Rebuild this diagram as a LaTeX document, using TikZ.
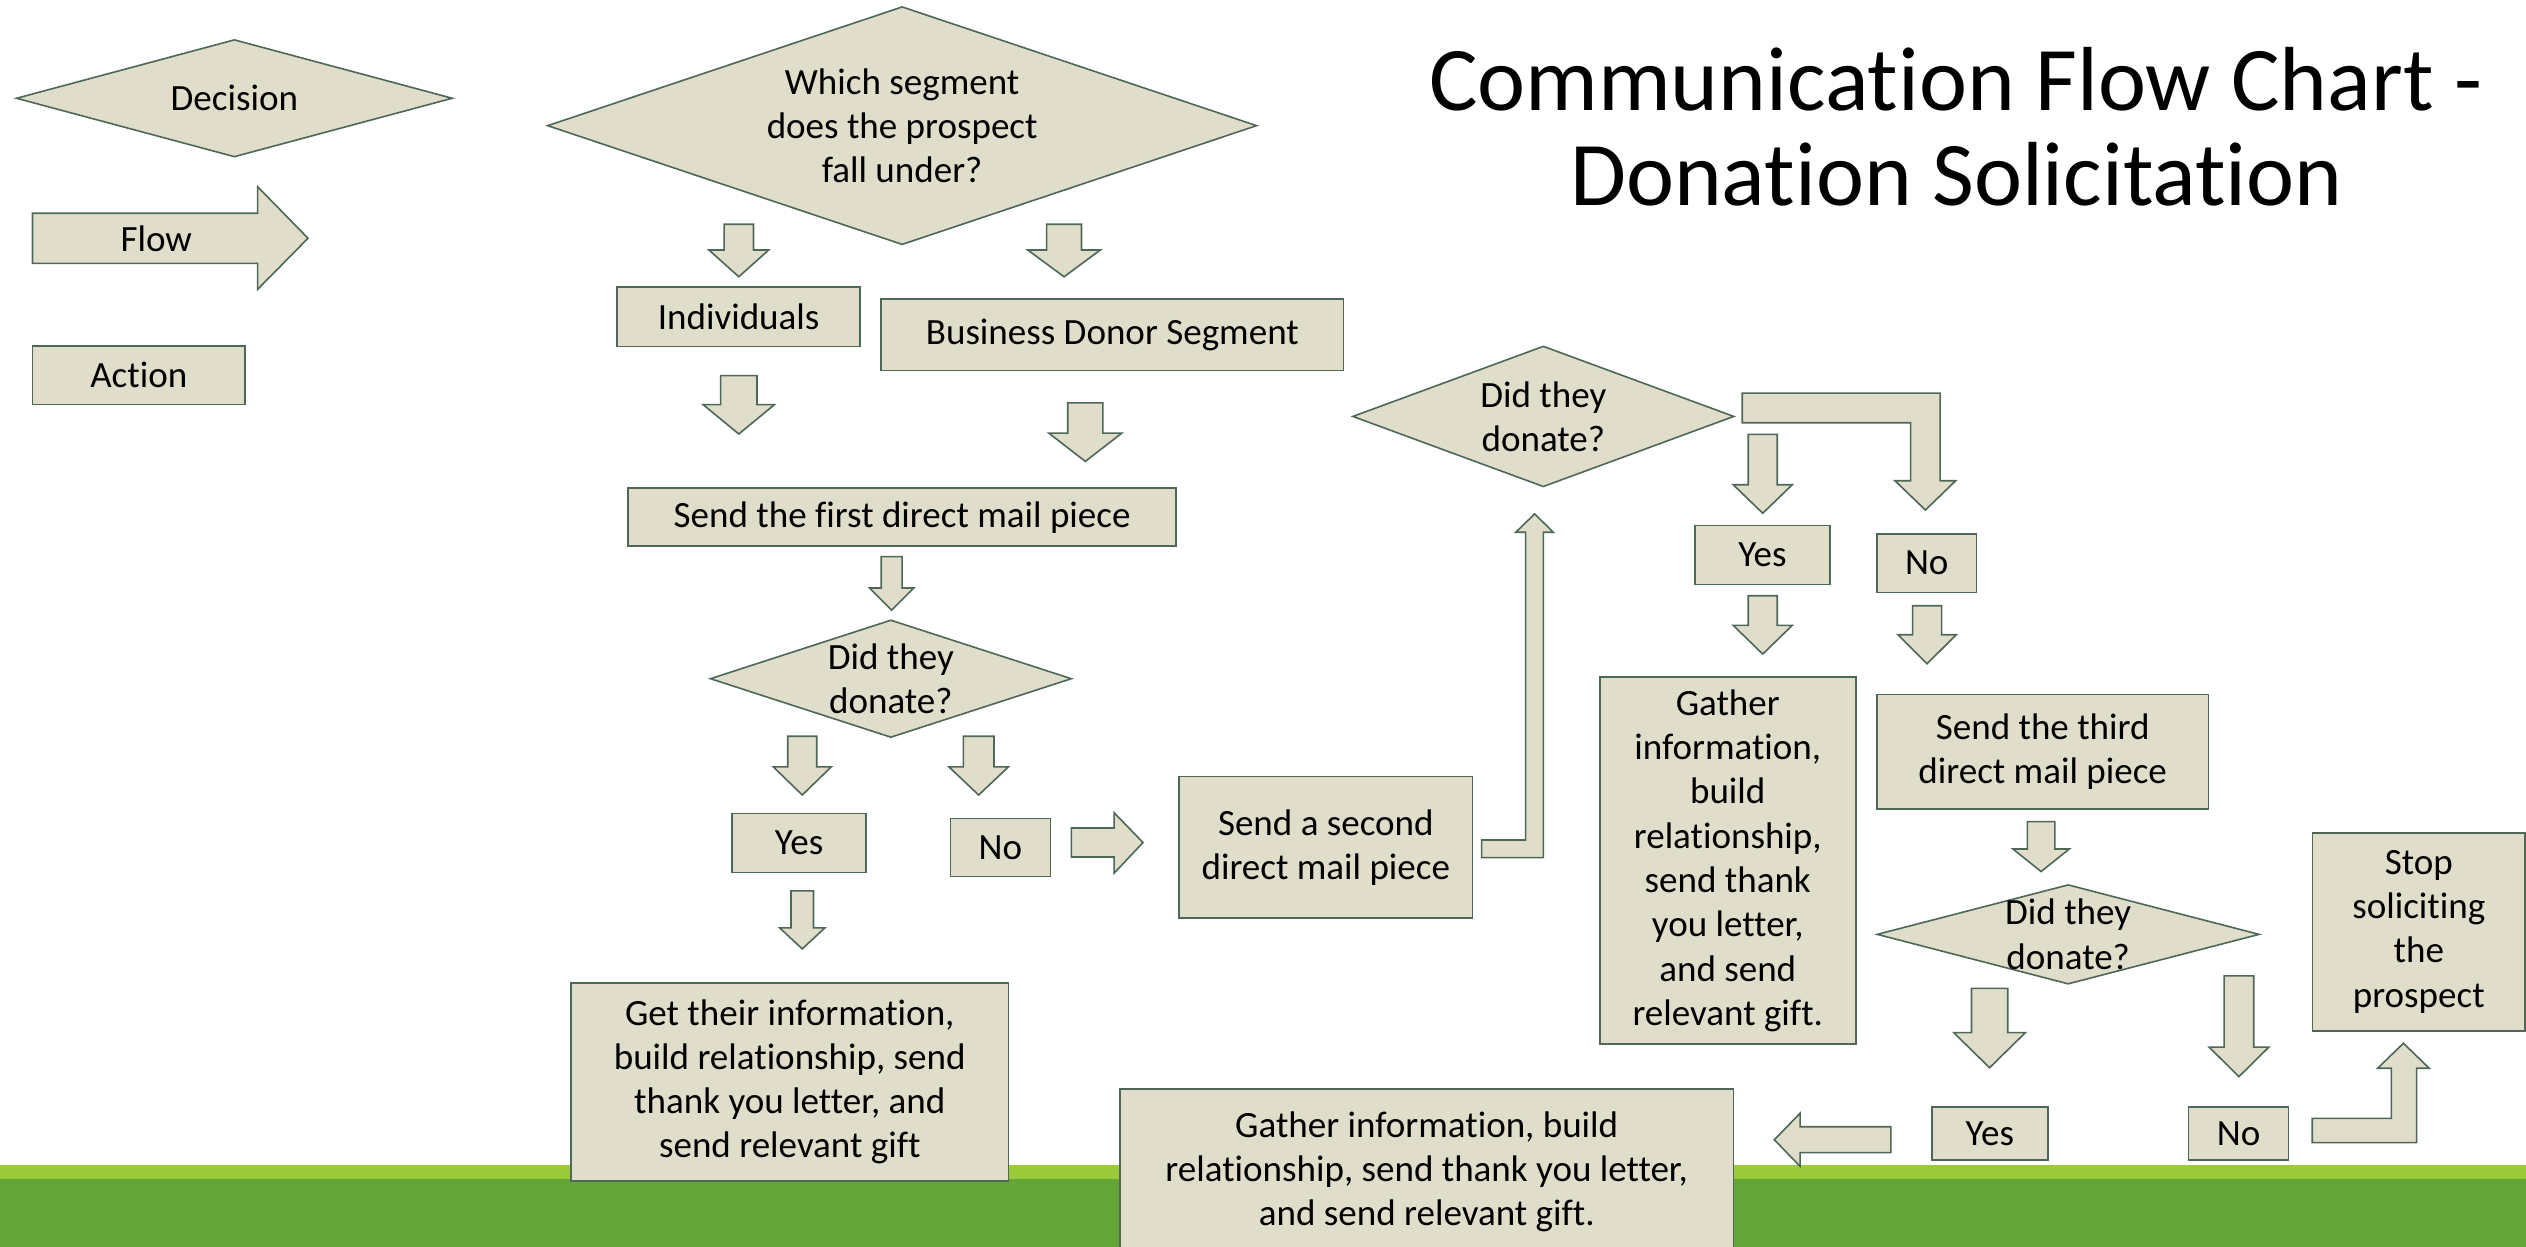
\documentclass[tikz,border=0pt]{standalone}
\usepackage{fontspec}
\setmainfont{Carlito}[Ligatures={NoCommon,NoRequired,NoContextual}]
\definecolor{fillc}{RGB}{224,222,203}
\definecolor{strk}{RGB}{78,104,88}
\definecolor{lgreen}{RGB}{155,202,60}
\definecolor{dgreen}{RGB}{99,165,55}
% block arrow pointing down: cx, shaft half width, head half width, top, head base, tip
\newcommand\DownArr[6]{\draw[blk] ({#1-#2},#4) -- ({#1+#2},#4) -- ({#1+#2},#5) -- ({#1+#3},#5) -- (#1,#6) -- ({#1-#3},#5) -- ({#1-#2},#5) -- cycle;}
% decision diamond: name, cx, cy, half width, half height, text
\newcommand\Dia[6]{\draw[shp] ({#2-#4},#3) -- (#2,{#3-#5}) -- ({#2+#4},#3) -- (#2,{#3+#5}) -- cycle;
\node[txt] (#1) at (#2,#3) {#6};}
\begin{document}
\begin{tikzpicture}[x=1bp,y=-1bp,
  shp/.style={draw=strk,fill=fillc,line width=1bp,line join=miter},
  blk/.style={shp},
  txt/.style={font=\fontsize{23bp}{27.5bp}\selectfont,align=center,inner sep=0pt},
  box/.style={shp,rectangle,inner sep=0pt,align=center,font=\fontsize{23bp}{27.5bp}\selectfont},
  ttl/.style={font=\fontsize{56.5bp}{60bp}\selectfont,anchor=base,inner sep=0pt}]
\useasboundingbox (0,0) rectangle (1568,774);
% green band
\fill[dgreen] (0,731.9) rectangle (1568,774);
\fill[lgreen] (0,723.2) rectangle (1568,731.9);
% title
\node[ttl] (title1) at (1214,68.3) {Communication Flow Chart -};
\node[ttl] (title2) at (1214.5,127.3) {Donation Solicitation};
% legend
\Dia{decision}{145.5}{61}{135.2}{36.25}{Decision}
\draw[blk] (20.2,132.4) -- (159.9,132.4) -- (159.9,115.9) -- (191.2,147.9) -- (159.9,179.6) -- (159.9,163.5) -- (20.2,163.5) -- cycle;
\node[txt] (flow) at (97,148) {Flow};
\node[box,minimum width=131.9bp,minimum height=36.4bp] (action) at (86.15,232.8) {Action};
% main diamond
\Dia{segment}{560}{78}{220}{73.7}{Which segment\\does the prospect\\fall under?}
\DownArr{458.6}{9.1}{18.5}{139.2}{155.2}{171.8}
\DownArr{660.5}{10.8}{22.5}{139.2}{155.2}{171.8}
\node[box,minimum width=151bp,minimum height=37bp] (indiv) at (458.5,196.5) {Individuals};
\node[box,minimum width=287bp,minimum height=44.5bp] (biz) at (690.5,207.75) {Business Donor Segment};
\DownArr{458.6}{11.3}{22.1}{233.2}{251.2}{269.4}
\DownArr{673.7}{10.9}{22.6}{250.1}{268.9}{286.4}
\node[box,minimum width=340bp,minimum height=36bp] (first) at (560,321) {Send the first direct mail piece};
\DownArr{553.5}{6.5}{13.75}{345.5}{365}{378.7}
\Dia{dona}{553}{421.3}{112}{36.3}{Did they\\donate?}
\DownArr{498}{9}{18}{457}{476}{493.5}
\DownArr{607.5}{9.5}{18.5}{457}{476}{493.5}
\node[box,minimum width=83.1bp,minimum height=36.5bp] (yesa) at (496.05,523.25) {Yes};
\node[box,minimum width=62bp,minimum height=36bp] (noa) at (621,526) {No};
\draw[blk] (665,514) -- (691.6,514) -- (691.6,504.5) -- (709.5,523) -- (691.6,542) -- (691.6,532) -- (665,532) -- cycle;
\node[box,minimum width=182bp,minimum height=88bp] (second) at (823,526) {Send a second\\direct mail piece};
\DownArr{498}{7}{14}{553}{576}{589}
\node[box,minimum width=271.5bp,minimum height=123bp] (getinfo) at (490.25,671.5) {Get their information,\\build relationship, send\\thank you letter, and\\send relevant gift};
% up to second decision
\draw[blk] (919.7,521.4) -- (947,521.4) -- (947,330.4) -- (940.9,330.4) -- (952.6,319) -- (964.2,330.4) -- (958,330.4) -- (958,532.4) -- (919.7,532.4) -- cycle;
\Dia{donb}{958}{258.5}{118.2}{43.5}{Did they\\donate?}
\draw[blk] (1081.5,244) -- (1204.3,244) -- (1204.3,298.4) -- (1214,298.4) -- (1195.15,316.6) -- (1176.3,298.4) -- (1186,298.4) -- (1186,262.4) -- (1081.5,262.4) -- cycle;
\DownArr{1094.2}{9}{18.3}{269.6}{300.9}{318.6}
\node[box,minimum width=84bp,minimum height=36.4bp] (yesb) at (1094,344.5) {Yes};
\node[box,minimum width=62bp,minimum height=36.4bp] (nob) at (1196,349.5) {No};
\DownArr{1094.2}{9}{18.3}{369.8}{388.2}{406}
\DownArr{1196.2}{9}{18.1}{376}{394}{412}
\node[box,minimum width=159bp,minimum height=227.6bp] (gathera) at (1072.5,534.2) {Gather\\information,\\build\\relationship,\\send thank\\you letter,\\and send\\relevant gift.};
\node[box,minimum width=206bp,minimum height=71bp] (third) at (1268,466.5) {Send the third\\direct mail piece};
\DownArr{1267}{8.5}{17.5}{510}{527}{541}
\Dia{donc}{1283.8}{580}{118.5}{30.7}{Did they\\donate?}
\DownArr{1235}{11.25}{22.2}{613.5}{641}{662.8}
\DownArr{1389.8}{9.2}{18.5}{605.8}{650}{668.3}
\node[box,minimum width=132.1bp,minimum height=122.8bp] (stop) at (1501.45,578.4) {Stop\\soliciting\\the\\prospect};
\node[box,minimum width=71.9bp,minimum height=33bp] (yesc) at (1235.15,703.5) {Yes};
\node[box,minimum width=62.1bp,minimum height=33bp] (noc) at (1389.55,703.5) {No};
\draw[blk] (1173.7,699.4) -- (1117.4,699.4) -- (1117.4,691) -- (1101.4,707.5) -- (1117.4,724) -- (1117.4,715.5) -- (1173.7,715.5) -- cycle;
\draw[blk] (1435.3,709.3) -- (1435.3,694.2) -- (1484.4,694.2) -- (1484.4,663.1) -- (1475.9,663.1) -- (1491.9,647.6) -- (1507.9,663.1) -- (1500.1,663.1) -- (1500.1,709.3) -- cycle;
\node[box,minimum width=380.9bp,minimum height=103.4bp] (gatherb) at (885.65,727.5) {Gather information, build\\relationship, send thank you letter,\\and send relevant gift.};
\end{tikzpicture}
\end{document}
